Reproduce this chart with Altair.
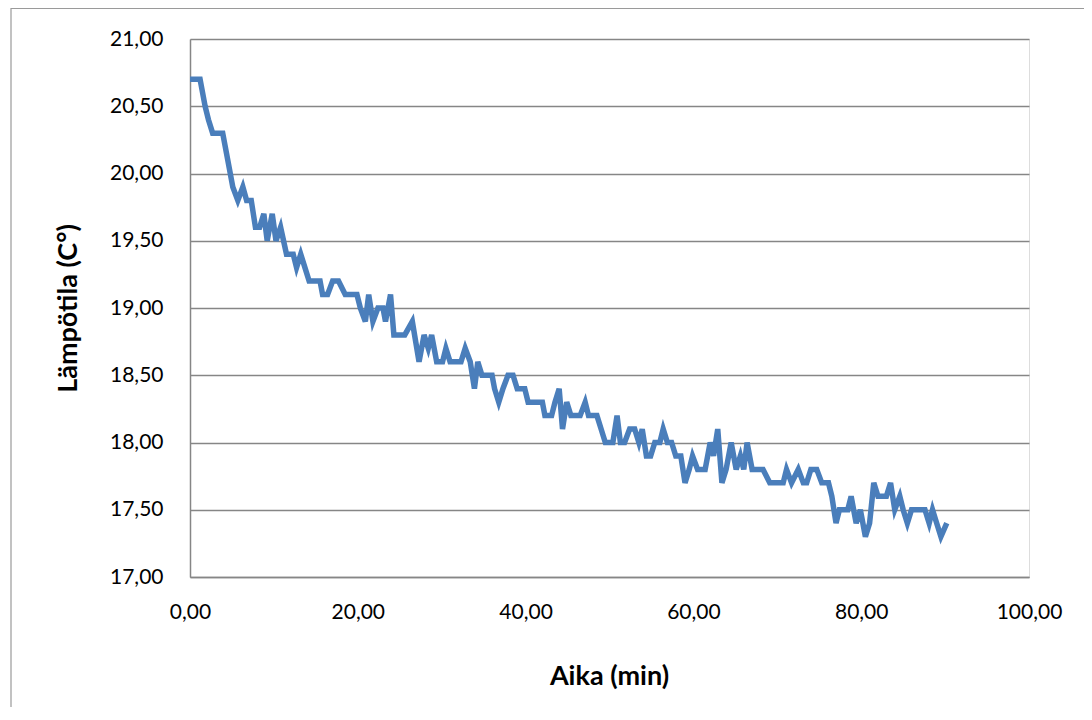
import altair as alt
import pandas as pd

aika = [0, 1.2, 1.8, 2.2, 2.7, 3.9, 4.5, 5.1, 5.7, 6.3, 6.75, 7.3, 7.8, 8.3, 8.8, 9.2,
        9.8, 10.25, 10.8, 11.5, 12.3, 12.7, 13.2, 13.7, 14.2, 15.5, 15.8, 16.4, 17.0,
        17.7, 18.5, 19.9, 20.3, 20.9, 21.3, 21.8, 22.4, 23.0, 23.3, 23.9, 24.3, 25.6,
        26.5, 27.3, 27.9, 28.4, 28.8, 29.4, 30.1, 30.5, 31.0, 32.3, 32.8, 33.4, 33.9,
        34.3, 34.8, 36.0, 36.3, 36.8, 37.3, 37.9, 38.5, 39.0, 39.9, 40.3, 42.0, 42.3,
        43.1, 43.5, 44.0, 44.4, 44.9, 45.4, 46.5, 47.1, 47.5, 48.5, 49.0, 49.5, 50.4,
        50.9, 51.3, 51.8, 52.4, 53.0, 53.5, 53.9, 54.4, 54.9, 55.4, 56.0, 56.4, 56.9,
        57.4, 57.9, 58.5, 59.0, 59.5, 59.9, 60.5, 61.4, 62.0, 62.4, 62.9, 63.4, 63.9,
        64.5, 65.1, 65.6, 66.0, 66.4, 67.0, 68.3, 69.1, 70.7, 71.1, 71.7, 72.5, 73.1,
        73.5, 74.0, 74.7, 75.3, 76.1, 76.5, 77.0, 77.4, 78.4, 78.8, 79.4, 79.9, 80.5,
        81.0, 81.5, 82.0, 83.0, 83.5, 84.0, 84.6, 85.0, 85.5, 86.0, 87.6, 88.1, 88.5,
        89.0, 89.5, 90.2]
lampotila = [20.7, 20.7, 20.5, 20.4, 20.3, 20.3, 20.1, 19.9, 19.8, 19.9, 19.8, 19.8,
             19.6, 19.6, 19.7, 19.5, 19.7, 19.5, 19.6, 19.4, 19.4, 19.3, 19.4, 19.3,
             19.2, 19.2, 19.1, 19.1, 19.2, 19.2, 19.1, 19.1, 19.0, 18.9, 19.1, 18.9,
             19.0, 19.0, 18.9, 19.1, 18.8, 18.8, 18.9, 18.6, 18.8, 18.7, 18.8, 18.6,
             18.6, 18.7, 18.6, 18.6, 18.7, 18.6, 18.4, 18.6, 18.5, 18.5, 18.4, 18.3,
             18.4, 18.5, 18.5, 18.4, 18.4, 18.3, 18.3, 18.2, 18.2, 18.3, 18.4, 18.1,
             18.3, 18.2, 18.2, 18.3, 18.2, 18.2, 18.1, 18.0, 18.0, 18.2, 18.0, 18.0,
             18.1, 18.1, 18.0, 18.1, 17.9, 17.9, 18.0, 18.0, 18.1, 18.0, 18.0, 17.9,
             17.9, 17.7, 17.8, 17.9, 17.8, 17.8, 18.0, 17.9, 18.1, 17.7, 17.8, 18.0,
             17.8, 17.9, 17.8, 18.0, 17.8, 17.8, 17.7, 17.7, 17.8, 17.7, 17.8, 17.7,
             17.7, 17.8, 17.8, 17.7, 17.7, 17.6, 17.4, 17.5, 17.5, 17.6, 17.4, 17.5,
             17.3, 17.4, 17.7, 17.6, 17.6, 17.7, 17.5, 17.6, 17.5, 17.4, 17.5, 17.5,
             17.4, 17.5, 17.4, 17.3, 17.4]

x_ticks = [0, 20, 40, 60, 80, 100]
y_ticks = [17.0, 17.5, 18.0, 18.5, 19.0, 19.5, 20.0, 20.5, 21.0]

df = pd.DataFrame({"aika": aika, "lampotila": lampotila})

FONT = "Lato"
GRAY = "#868686"
comma_fmt = "replace(format(datum.value, '.2f'), '.', ',')"

frame = alt.Chart(pd.DataFrame({"k": [0]})).mark_rect(
    fill=None, stroke="#9a9a9a", strokeWidth=1.2, clip=False
).encode(
    x=alt.value(-179), x2=alt.value(1000), y=alt.value(-30.5), y2=alt.value(900)
)

line = alt.Chart(df).mark_line(color="#4a7ebb", strokeWidth=5.5).encode(
    x=alt.X("aika:Q",
            scale=alt.Scale(domain=[0, 100], nice=False),
            axis=alt.Axis(values=x_ticks, labelExpr=comma_fmt, grid=False,
                          ticks=False, domainColor=GRAY, domainWidth=1.5,
                          labelFlush=False, labelOverlap=False,
                          labelFont=FONT, labelFontSize=21, labelColor="#000000",
                          labelPadding=24, title="Aika (min)",
                          titleFont=FONT, titleFontSize=27, titleFontWeight="bold",
                          titleColor="#000000", titleX=419, titleY=99,
                          titleBaseline="middle", titleAlign="center")),
    y=alt.Y("lampotila:Q",
            scale=alt.Scale(domain=[17, 21], nice=False, zero=False),
            axis=alt.Axis(values=y_ticks, labelExpr=comma_fmt, grid=True,
                          gridColor=GRAY, gridWidth=1.5, ticks=False,
                          domainColor=GRAY, domainWidth=1.5,
                          labelFlush=False, labelOverlap=False,
                          labelFont=FONT, labelFontSize=21, labelColor="#000000",
                          labelPadding=27, title="Lämpötila (C°)",
                          titleFont=FONT, titleFontSize=27, titleFontWeight="bold",
                          titleColor="#000000", titleX=-122, titleY=269,
                          titleAngle=-90, titleBaseline="middle", titleAlign="center")),
)

chart = alt.layer(frame, line).properties(
    width=839, height=538,
    autosize=alt.AutoSizeParams(type="none"),
    padding={"left": 182, "top": 31, "right": 55, "bottom": 130},
).configure_view(stroke=None).configure(background="#ffffff")

chart.save("out.html", embed_options={"renderer": "svg", "actions": False})
